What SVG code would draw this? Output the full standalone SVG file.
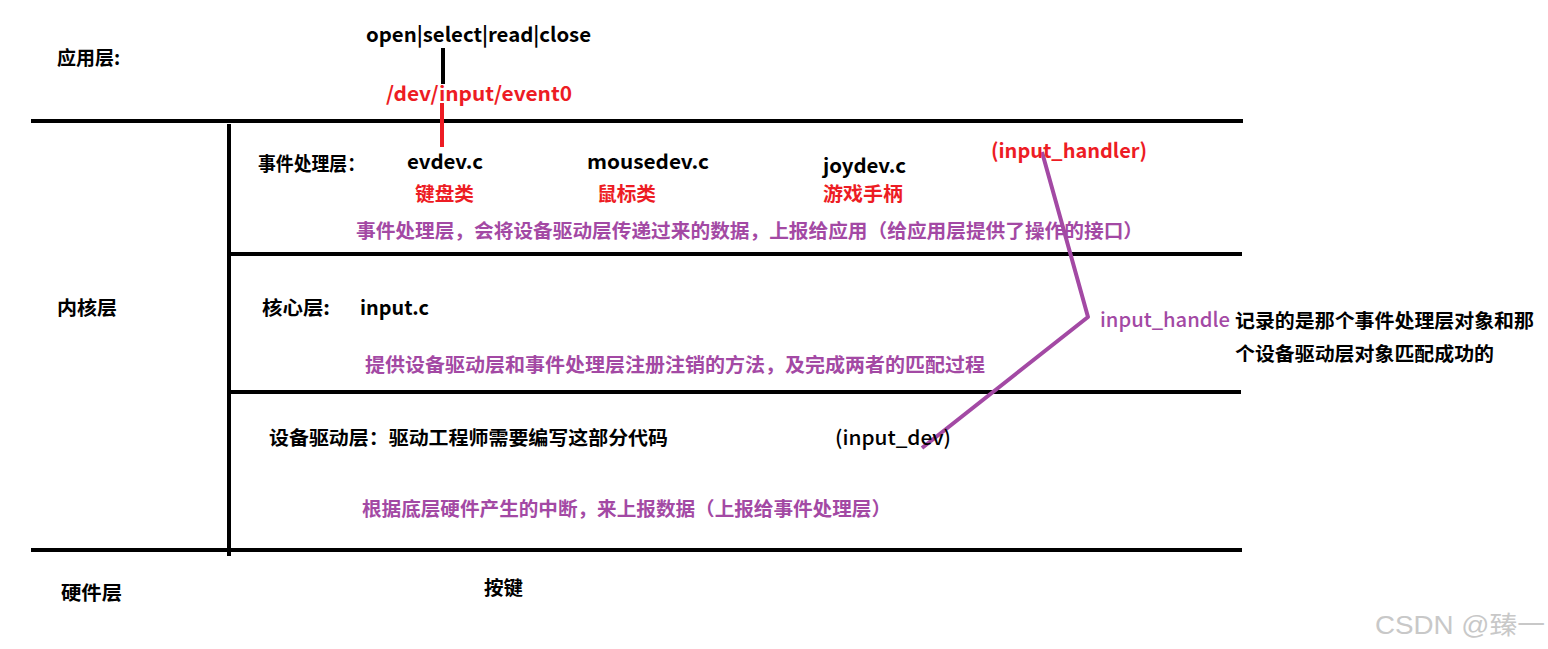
<svg xmlns="http://www.w3.org/2000/svg" width="1548" height="649" viewBox="0 0 1548 649">
<style>
text{font-family:"Noto Sans CJK SC","Noto Sans",sans-serif;font-weight:bold;font-size:19px;fill:#000}
.lat{font-size:20px;font-weight:600}
.red{fill:#ed1c24}
.pur{fill:#a349a4}
.mid{font-weight:500}
.rule{stroke:#000;stroke-width:4;fill:none}
.wm{font-family:"Liberation Sans","Noto Sans CJK SC",sans-serif;font-weight:normal;font-size:25px;fill:#c8c8c8}
</style>
<rect width="1548" height="649" fill="#fff"/>
<g id="connectors">
<line class="rule" x1="31" y1="121" x2="1243" y2="121"/>
<line class="rule" x1="229" y1="124" x2="229" y2="556"/>
<line class="rule" x1="231" y1="254" x2="1242" y2="254"/>
<line class="rule" x1="231" y1="392" x2="1241" y2="392"/>
<line class="rule" x1="31" y1="550" x2="1242" y2="550"/>
<line class="rule" x1="443" y1="48" x2="443" y2="84"/>
<line x1="442" y1="103" x2="442" y2="147" stroke="#ed1c24" stroke-width="4"/>
<polyline points="1042,152 1088,317 922,448" fill="none" stroke="#a349a4" stroke-width="4" stroke-linejoin="round"/>
</g>
<g id="app-layer">
<text x="57" y="65">应用层:</text>
<text class="lat" x="366" y="42" textLength="225" lengthAdjust="spacingAndGlyphs">open|select|read|close</text>
<text class="lat red" x="386" y="101" textLength="186" lengthAdjust="spacingAndGlyphs">/dev/input/event0</text>
</g>
<g id="kernel-layer">
<text x="57" y="315" textLength="60" lengthAdjust="spacingAndGlyphs">内核层</text>
</g>
<g id="event-layer">
<text x="258" y="171" textLength="107" lengthAdjust="spacingAndGlyphs">事件处理层：</text>
<text class="lat" x="407" y="169" textLength="76" lengthAdjust="spacingAndGlyphs">evdev.c</text>
<text class="lat" x="587" y="169" textLength="122" lengthAdjust="spacingAndGlyphs">mousedev.c</text>
<text class="lat" x="823" y="173" textLength="83" lengthAdjust="spacingAndGlyphs">joydev.c</text>
<text class="lat red" x="991" y="158" textLength="156" lengthAdjust="spacingAndGlyphs">(input_handler)</text>
<text class="red" x="415" y="201" textLength="59" lengthAdjust="spacingAndGlyphs">键盘类</text>
<text class="red" x="597" y="201" textLength="59" lengthAdjust="spacingAndGlyphs">鼠标类</text>
<text class="red" x="823" y="201" textLength="80" lengthAdjust="spacingAndGlyphs">游戏手柄</text>
<text class="pur" x="356" y="238" textLength="787" lengthAdjust="spacingAndGlyphs">事件处理层，会将设备驱动层传递过来的数据，上报给应用（给应用层提供了操作的接口）</text>
</g>
<g id="core-layer">
<text x="262" y="315" textLength="68" lengthAdjust="spacingAndGlyphs">核心层:</text>
<text class="lat" x="360" y="315" textLength="69" lengthAdjust="spacingAndGlyphs">input.c</text>
<text class="pur" x="365" y="372" textLength="620" lengthAdjust="spacingAndGlyphs">提供设备驱动层和事件处理层注册注销的方法，及完成两者的匹配过程</text>
</g>
<g id="handle-note">
<text class="lat pur mid" x="1100" y="327" textLength="130" lengthAdjust="spacingAndGlyphs">input_handle</text>
<text x="1235" y="328" textLength="299" lengthAdjust="spacingAndGlyphs">记录的是那个事件处理层对象和那</text>
<text x="1235" y="361" textLength="259" lengthAdjust="spacingAndGlyphs">个设备驱动层对象匹配成功的</text>
</g>
<g id="driver-layer">
<text x="269" y="445" textLength="399" lengthAdjust="spacingAndGlyphs">设备驱动层：驱动工程师需要编写这部分代码</text>
<text class="lat mid" x="835" y="445" textLength="116" lengthAdjust="spacingAndGlyphs">(input_dev)</text>
<text class="pur" x="362" y="516" textLength="529" lengthAdjust="spacingAndGlyphs">根据底层硬件产生的中断，来上报数据（上报给事件处理层）</text>
</g>
<g id="hw-layer">
<text x="61" y="600" textLength="61" lengthAdjust="spacingAndGlyphs">硬件层</text>
<text x="484" y="595" textLength="39" lengthAdjust="spacingAndGlyphs">按键</text>
</g>
<text class="wm" x="1375" y="634" textLength="170" lengthAdjust="spacingAndGlyphs">CSDN @臻一</text>
</svg>
